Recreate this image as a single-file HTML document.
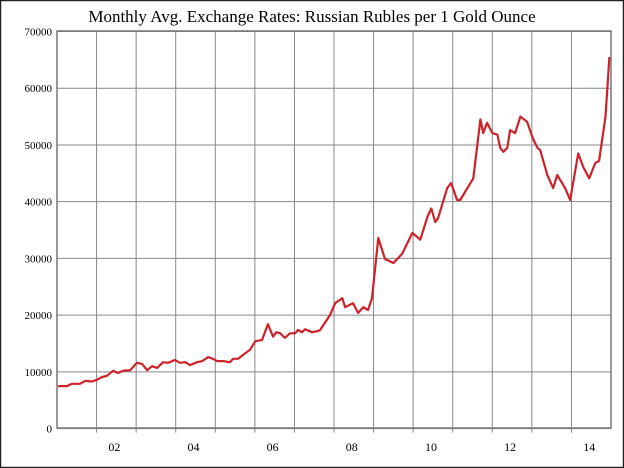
<!DOCTYPE html>
<html><head><meta charset="utf-8"><style>
html,body{margin:0;padding:0;background:#fff}
svg{display:block}
</style></head><body>
<svg width="624" height="468" xmlns="http://www.w3.org/2000/svg">
<rect x="0.5" y="0.5" width="623" height="467" fill="#fff" stroke="#222" stroke-width="1.5"/>
<text x="312" y="22" text-anchor="middle" font-family="Liberation Serif, serif" font-size="17" fill="#000">Monthly Avg. Exchange Rates: Russian Rubles per 1 Gold Ounce</text>
<g id="grid"></g>
<g id="axes"></g>
<path id="line" fill="none" stroke="#cc2229" stroke-width="2.2" stroke-linejoin="round"/>
<rect x="57" y="31" width="554" height="397" fill="none" stroke="#777" stroke-width="1.5"/>
</svg>
<script>
const dates=[2001.03,2001.25,2001.38,2001.58,2001.71,2001.88,2002.01,2002.14,2002.26,2002.42,2002.54,2002.67,2002.85,2003.02,2003.15,2003.28,2003.40,2003.53,2003.68,2003.81,2003.98,2004.11,2004.24,2004.36,2004.54,2004.67,2004.82,2004.94,2005.05,2005.20,2005.37,2005.45,2005.58,2005.70,2005.88,2006.01,2006.18,2006.33,2006.46,2006.54,2006.64,2006.76,2006.89,2007.02,2007.09,2007.19,2007.27,2007.45,2007.60,2007.65,2007.90,2008.03,2008.21,2008.28,2008.48,2008.61,2008.74,2008.86,2008.96,2009.12,2009.29,2009.50,2009.72,2009.98,2010.18,2010.36,2010.46,2010.56,2010.63,2010.86,2010.96,2011.11,2011.19,2011.39,2011.52,2011.70,2011.77,2011.87,2012.00,2012.13,2012.20,2012.28,2012.38,2012.45,2012.58,2012.71,2012.88,2013.01,2013.14,2013.21,2013.39,2013.54,2013.64,2013.72,2013.84,2013.97,2014.17,2014.30,2014.45,2014.60,2014.70,2014.86,2014.96];
const values=[7500,7500,7900,7900,8400,8300,8600,9100,9300,10200,9800,10200,10300,11600,11400,10300,11000,10700,11700,11600,12100,11600,11700,11200,11700,11900,12600,12300,11900,11900,11700,12300,12300,13000,13900,15400,15600,18400,16200,17000,16800,16000,16800,16800,17400,17000,17500,17000,17200,17400,20000,22100,23000,21400,22100,20400,21400,20900,23000,33600,29900,29200,30800,34500,33300,37300,38800,36400,37100,42400,43300,40300,40300,42600,44100,54500,52100,53900,52100,51800,49500,48800,49500,52600,52100,55000,54100,51400,49500,49100,44700,42400,44700,43800,42400,40300,48500,46100,44100,46800,47200,55000,65500];
const yTicks=[0,10000,20000,30000,40000,50000,60000,70000];
const xTickLabels=["02","04","06","08","10","12","14"];
const xTickYears=[2002,2004,2006,2008,2010,2012,2014];
const X0=57,X1=611,Y0=428.6,Y1=31.5,yMin=2001,yMax=2015,vMax=70000;
const sx=y=>X0+(y-yMin)/(yMax-yMin)*(X1-X0);
const sy=v=>Y0-v/vMax*(Y0-Y1);
const NS="http://www.w3.org/2000/svg";
const grid=document.getElementById('grid'),axes=document.getElementById('axes');
for(const t of yTicks){
 const l=document.createElementNS(NS,'line');
 
 
 l.setAttribute('x1',X0);l.setAttribute('x2',X1);l.setAttribute('y1',sy(t));l.setAttribute('y2',sy(t));
 l.setAttribute('stroke','#888');l.setAttribute('stroke-width','1');grid.appendChild(l);
 const tx=document.createElementNS(NS,'text');
 
 
 tx.setAttribute('x',52);tx.setAttribute('y',sy(t)+4);tx.setAttribute('text-anchor','end');
 tx.setAttribute('font-family','Liberation Serif, serif');tx.setAttribute('font-size','11');tx.textContent=t;axes.appendChild(tx);
}
for(let yr=yMin+1;yr<yMax;yr++){
 const l=document.createElementNS(NS,'line');
 
 
 l.setAttribute('x1',sx(yr));l.setAttribute('x2',sx(yr));l.setAttribute('y1',Y1);l.setAttribute('y2',Y0+4);
 l.setAttribute('stroke','#888');l.setAttribute('stroke-width','1');grid.appendChild(l);
}
xTickYears.forEach((yr,i)=>{
 const tx=document.createElementNS(NS,'text');
 
 
 tx.setAttribute('x',sx(yr+0.45));tx.setAttribute('y',451);tx.setAttribute('text-anchor','middle');
 tx.setAttribute('font-family','Liberation Serif, serif');tx.setAttribute('font-size','12');tx.textContent=xTickLabels[i];axes.appendChild(tx);
});
document.getElementById('line').setAttribute('d',dates.map((d,i)=>(i?'L':'M')+sx(d).toFixed(1)+' '+sy(values[i]).toFixed(1)).join(' '));
</script>
</body></html>
